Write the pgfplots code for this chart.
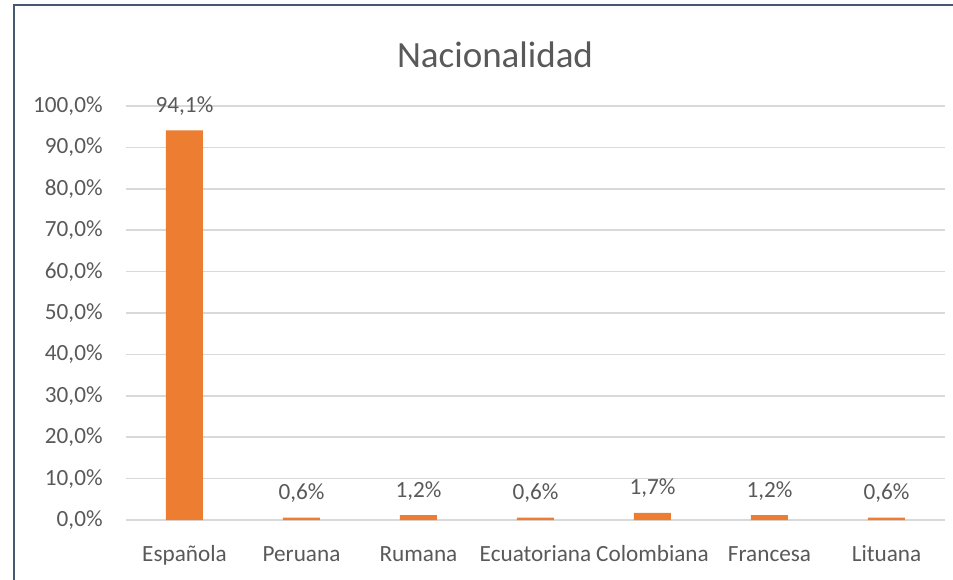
\documentclass[border=0pt]{standalone}
\usepackage{fontspec}
\setmainfont{Carlito}
\usepackage{pgfplots}
\pgfplotsset{compat=1.18}
\definecolor{barorange}{HTML}{ED7D31}
\definecolor{gridgray}{HTML}{D9D9D9}
\definecolor{txtgray}{HTML}{595959}
\definecolor{framecol}{HTML}{485870}
\begin{document}
\begin{tikzpicture}
\begin{axis}[
    scale only axis,
    width=409.5pt, height=207pt,
    ybar, bar width=18.5pt,
    xmin=-0.5, xmax=6.5,
    ymin=0, ymax=100,
    ytick={0,10,...,100},
    xtick=data,
    xticklabels={Española, Peruana, Rumana, Ecuatoriana, Colombiana, Francesa, Lituana},
    /pgf/number format/assume math mode=true,
    yticklabel={\pgfmathprintnumber[fixed,fixed zerofill,precision=1,use comma]{\tick}\%},
    axis line style={draw=none},
    tick style={draw=none},
    ymajorgrids,
    major grid style={gridgray, line width=0.8pt},
    ticklabel style={font=\fontsize{11.6}{13}\selectfont, text=txtgray},
    yticklabel style={anchor=east, inner sep=0pt, xshift=-11.5pt},
    xticklabel style={anchor=base, inner sep=0pt, yshift=-16.5pt},
    nodes near coords={\pgfmathprintnumber[fixed,fixed zerofill,precision=1,use comma,assume math mode=true]{\pgfplotspointmeta}\%},
    nodes near coords style={font=\fontsize{11.6}{13}\selectfont, text=txtgray, anchor=base, inner sep=0pt, yshift=9pt},
    clip=false,
]
\addplot[fill=barorange, draw=none] coordinates {(0,94.1) (1,0.6) (2,1.2) (3,0.6) (4,1.7) (5,1.2) (6,0.6)};
\end{axis}
\node[font=\fontsize{18.5}{22}\selectfont, text=txtgray] at (184.5pt,232.5pt) {Nacionalidad};
\draw[framecol, line width=1pt] (-56pt,-30pt) -- (-56pt,257.5pt) -- (414pt,257.5pt);
\pgfresetboundingbox
\useasboundingbox (-63pt,-29.5pt) rectangle (413.5pt,260pt);
\end{tikzpicture}
\end{document}
